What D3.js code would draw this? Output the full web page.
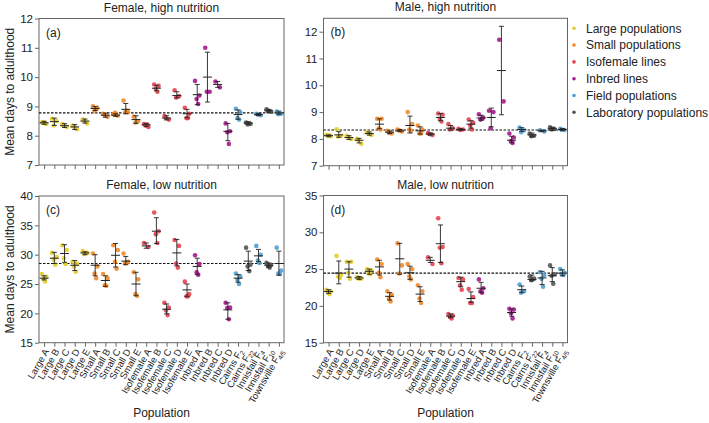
<!DOCTYPE html>
<html><head><meta charset="utf-8">
<script src="https://cdn.jsdelivr.net/npm/d3@7"></script>
<style>body{margin:0;background:#fff} svg{display:block;font-family:"Liberation Sans",Arial,Helvetica,sans-serif}</style>
</head><body><svg id="chart" width="709" height="423"></svg>
<script>
// ---------- data ----------
const catBase = ["Large A","Large B","Large C","Large D","Large E","Small A","Small B","Small C","Small D","Small E",
  "Isofemale A","Isofemale B","Isofemale C","Isofemale D","Isofemale E","Inbred A","Inbred B","Inbred C","Inbred D",
  "Cairns F","Cairns F","Innisfail F","Innisfail F","Townsville F"];
const catSub = ["","","","","","","","","","","","","","","","","","","","2","22","4","10","4/5"];
const catGroup = [0,0,0,0,0,1,1,1,1,1,2,2,2,2,2,3,3,3,3,4,5,4,5,4];
const groupNames = ["Large populations","Small populations","Isofemale lines","Inbred lines","Field populations","Laboratory populations"];
const groupColors = ["#e3cc2a","#ee8a2c","#e5424f","#a5198c","#4f9fd0","#555555"];

const meanA = [8.44,8.48,8.34,8.30,8.50,8.93,8.70,8.70,8.90,8.55,8.37,9.62,8.60,9.37,8.75,9.40,10.00,9.75,8.15,8.72,8.43,8.72,8.85,8.78];
const loA = [8.39,8.35,8.28,8.21,8.43,8.86,8.63,8.66,8.75,8.42,8.31,9.53,8.54,9.29,8.61,9.06,9.15,9.65,7.83,8.56,8.39,8.69,8.80,8.73];
const hiA = [8.49,8.60,8.41,8.38,8.57,9.00,8.77,8.75,9.10,8.68,8.42,9.72,8.68,9.50,8.90,9.75,10.85,9.85,8.42,8.88,8.48,8.76,8.90,8.84];
const ptsA = [[8.45,8.40,8.47,8.43],[8.58,8.50,8.35],[8.40,8.30,8.35],[8.35,8.22,8.30],[8.55,8.42,8.50],
  [9.00,8.95,8.85,8.90],[8.75,8.65,8.70],[8.73,8.68,8.78],[9.20,8.80,8.80,8.85],[8.65,8.50,8.45],
  [8.40,8.30,8.35,8.38],[9.75,9.70,9.60,9.50],[8.67,8.55,8.60],[9.55,9.35,9.30],[8.95,8.75,8.60,8.60],
  [9.87,9.37,9.25,9.08],[11.0,9.50,9.50],[9.85,9.65],[8.42,8.15,8.12,7.72],
  [8.92,8.80,8.60,8.55],[8.45,8.40,8.38],[8.75,8.70,8.72],[8.90,8.82,8.85],[8.82,8.75,8.73]];

const meanB = [8.12,8.15,8.05,7.95,8.20,8.55,8.25,8.30,8.50,8.30,8.18,8.80,8.40,8.35,8.55,8.78,8.80,10.55,7.95,8.35,8.15,8.30,8.38,8.35];
const loB = [8.08,8.06,7.98,7.85,8.14,8.38,8.20,8.27,8.22,8.18,8.14,8.68,8.33,8.32,8.40,8.70,8.45,8.90,7.85,8.28,8.08,8.27,8.32,8.31];
const hiB = [8.15,8.27,8.12,8.02,8.26,8.75,8.30,8.35,8.85,8.45,8.22,8.95,8.50,8.38,8.68,8.88,9.15,12.2,8.10,8.42,8.22,8.33,8.44,8.39];
const ptsB = [[8.15,8.10,8.12,8.13],[8.36,8.12,8.09],[8.12,8.00,8.05],[8.00,7.82,7.95],[8.25,8.15,8.20],
  [8.75,8.75,8.40,8.35],[8.30,8.20,8.22],[8.35,8.28,8.32],[9.00,8.55,8.35,8.30],[8.50,8.35,8.20,8.20],
  [8.22,8.15,8.18],[8.95,8.90,8.75,8.65],[8.55,8.40,8.35],[8.38,8.35,8.33],[8.72,8.60,8.50,8.35],
  [8.92,8.80,8.72,8.75],[9.05,9.00,8.40],[11.7,9.40],[8.20,8.05,7.92,7.85],
  [8.42,8.32,8.25],[8.20,8.12,8.10],[8.32,8.28],[8.43,8.37,8.35],[8.38,8.33,8.34]];

const meanC = [26.0,29.4,30.2,28.2,30.3,28.2,25.6,29.9,28.9,25.0,31.5,34.0,20.7,30.3,24.0,28.0,null,null,20.6,26.0,28.9,29.8,28.2,28.5];
const loC = [25.7,28.5,28.7,27.3,30.0,26.4,24.6,27.9,28.3,23.0,31.1,31.9,19.9,28.1,22.9,26.6,null,null,19.0,25.3,27.3,28.8,27.9,26.5];
const hiC = [26.4,30.4,31.7,29.0,30.5,30.0,26.4,31.9,29.7,27.0,32.0,36.3,21.6,32.6,25.0,29.4,null,null,21.8,26.6,30.6,30.9,28.6,30.6];
const ptsC = [[26.7,26.25,25.85,25.45],[30.3,29.6,29.2,28.3],[31.6,30.8,29.4,28.4],[28.8,28.5,28.0,27.1],[30.6,30.3,30.1],
  [30.2,28.0,26.8,26.0],[26.7,26.0,24.8,24.7],[31.6,30.8,28.8,27.6],[30.2,28.8,28.5,28.7],[27.0,25.8,23.3,23.0],
  [32.0,31.3],[37.2,34.0,33.5,32.0],[21.8,21.0,20.5,19.7],[32.5,31.5,28.5,27.8],[25.4,23.3,22.9,22.9],
  [29.9,28.4,27.0,26.6],[],[],[21.8,21.0,20.9,19.0],
  [26.8,26.3,25.7,25.0],[31.2,28.3,28.0,27.2],[31.5,30.0,29.0,28.6],[28.6,28.2,28.0,27.8],[31.2,27.3,26.8,26.7]];

const meanD = [21.95,24.45,25.0,23.8,24.7,25.3,21.3,26.4,24.5,21.6,26.2,28.45,18.6,23.3,21.0,22.4,null,null,19.1,22.2,23.6,23.8,24.1,24.45];
const loD = [21.7,23.0,23.9,23.6,24.3,24.2,20.8,24.3,23.6,20.6,25.9,25.9,18.4,22.6,20.5,21.8,null,null,18.6,21.8,23.4,22.9,23.3,24.1];
const hiD = [22.2,26.1,26.0,24.0,25.0,26.2,21.8,28.5,25.4,22.6,26.6,31.0,18.9,23.9,21.9,23.2,null,null,19.6,22.7,24.2,24.7,25.2,24.9];
const ptsD = [[22.2,22.0,21.8,21.6],[26.8,24.2,24.0,23.8],[26.0,26.0,24.5,23.7],[23.9,23.7,23.7],[25.0,24.8,24.5,24.3],
  [26.3,25.7,24.5,23.9],[22.0,21.5,21.0,20.6],[28.5,25.5,24.4],[25.7,25.0,24.0,23.6],[22.8,22.0,21.0,20.4],
  [26.6,25.7],[31.9,28.0,27.9,25.8],[18.9,18.7,18.5,18.3],[23.8,23.6,22.8,22.2],[22.3,21.2,20.4,20.4],
  [23.6,22.4,22.0,21.8],[],[],[19.6,19.5,19.0,18.3],
  [22.9,22.0,21.8],[24.0,23.7,23.5],[24.6,24.2,23.7,22.6],[25.5,24.3,24.1,23.0],[25.0,24.5,24.3,24.2]];

const ticksA = [7,8,9,10,11,12], ticksB = [7,8,9,10,11,12], ticksC = [15,20,25,30,35,40], ticksD = [15,20,25,30,35];
const domainA = [7,12], domainB = [7,12.5], domainC = [15,40], domainD = [15,35];
const refA = 8.78, refB = 8.33, refC = 28.5, refD = 24.45;
const titles = ["Female, high nutrition","Male, high nutrition","Female, low nutrition","Male, low nutrition"];
const tags = ["(a)","(b)","(c)","(d)"];

// ---------- layout ----------
const boxes = [
  {x0:39, x1:284, y0:18.5, y1:165},
  {x0:323.5, x1:567.5, y0:18.3, y1:165.7},
  {x0:39, x1:284, y0:196, y1:342.7},
  {x0:323.5, x1:567.5, y0:195.5, y1:342.7}
];
const panels = [
  {mean:meanA, lo:loA, hi:hiA, pts:ptsA, ticks:ticksA, domain:domainA, ref:refA},
  {mean:meanB, lo:loB, hi:hiB, pts:ptsB, ticks:ticksB, domain:domainB, ref:refB},
  {mean:meanC, lo:loC, hi:hiC, pts:ptsC, ticks:ticksC, domain:domainC, ref:refC},
  {mean:meanD, lo:loD, hi:hiD, pts:ptsD, ticks:ticksD, domain:domainD, ref:refD}
];
const jitter = [-2.2, 2.2, -0.6, 1.0];
const axisCol = "#666";
const svg = d3.select("#chart");

panels.forEach((p, k) => {
  const b = boxes[k];
  const x = d3.scalePoint().domain(d3.range(catBase.length)).range([b.x0, b.x1]).padding(0.5);
  const y = d3.scaleLinear().domain(p.domain).range([b.y1, b.y0]);
  const g = svg.append("g");

  g.append("text").attr("x", (b.x0+b.x1)/2).attr("y", b.y0-7).attr("text-anchor","middle")
    .attr("font-size",12).attr("fill","#222").text(titles[k]);
  g.append("text").attr("x", b.x0+7).attr("y", b.y0+18).attr("font-size",12).attr("fill","#222").text(tags[k]);

  const ya = g.append("g").attr("transform",`translate(${b.x0},0)`)
    .call(d3.axisLeft(y).tickValues(p.ticks).tickFormat(d3.format("d")).tickSize(4).tickSizeOuter(0).tickPadding(2));
  ya.select(".domain").remove();
  ya.selectAll("line").attr("stroke",axisCol);
  ya.selectAll("text").attr("font-size",11.5).attr("fill","#222").attr("font-family",null);

  const xa = g.append("g").attr("transform",`translate(0,${b.y1})`)
    .call(d3.axisBottom(x).tickSize(4).tickFormat(""));
  xa.select(".domain").remove();
  xa.selectAll("line").attr("stroke",axisCol);

  g.append("rect").attr("x",b.x0).attr("y",b.y0).attr("width",b.x1-b.x0).attr("height",b.y1-b.y0)
    .attr("fill","none").attr("stroke",axisCol).attr("stroke-width",1);

  g.append("line").attr("x1",b.x0).attr("x2",b.x1).attr("y1",y(p.ref)).attr("y2",y(p.ref))
    .attr("stroke","#111").attr("stroke-width",1.1).attr("stroke-dasharray","2.5,1.5");

  catBase.forEach((c, i) => {
    const col = groupColors[catGroup[i]];
    g.selectAll(null).data(p.pts[i]).enter().append("circle")
      .attr("cx",(d,j)=>x(i)+jitter[j%jitter.length])
      .attr("cy",d=>y(d)).attr("r",2.3).attr("fill",col).attr("fill-opacity",0.9);
    if (p.mean[i] != null) {
      const xc = x(i);
      g.append("line").attr("x1",xc).attr("x2",xc).attr("y1",y(p.lo[i])).attr("y2",y(p.hi[i]))
        .attr("stroke","#222").attr("stroke-width",0.9);
      [p.lo[i], p.hi[i]].forEach(v => g.append("line").attr("x1",xc-2.5).attr("x2",xc+2.5)
        .attr("y1",y(v)).attr("y2",y(v)).attr("stroke","#222").attr("stroke-width",0.9));
      g.append("line").attr("x1",xc-4.5).attr("x2",xc+4.5).attr("y1",y(p.mean[i])).attr("y2",y(p.mean[i]))
        .attr("stroke","#222").attr("stroke-width",1);
    }
  });

  if (k >= 2) {
    catBase.forEach((c, i) => {
      const t = g.append("text").attr("transform",`translate(${x(i)+2.5},${b.y1+7}) rotate(-60)`)
        .attr("text-anchor","end").attr("dy","0.35em").attr("font-size",9.5).attr("fill","#222");
      t.append("tspan").text(c);
      if (catSub[i]) t.append("tspan").attr("font-size",6.5).attr("dy","0.3em").text(catSub[i]);
    });
    g.append("text").attr("x",(b.x0+b.x1)/2).attr("y",417).attr("text-anchor","middle")
      .attr("font-size",12).attr("fill","#222").text("Population");
  }
  if (k % 2 === 0) {
    g.append("text").attr("transform",`translate(14,${(b.y0+b.y1)/2}) rotate(-90)`)
      .attr("text-anchor","middle").attr("font-size",12).attr("fill","#222").text("Mean days to adulthood");
  }
});

const lg = svg.append("g");
groupNames.forEach((n, i) => {
  const yy = 28.3 + i*16.8;
  lg.append("circle").attr("cx",574).attr("cy",yy).attr("r",1.8).attr("fill",groupColors[i]);
  lg.append("text").attr("x",586).attr("y",yy).attr("dy","0.35em").attr("font-size",12).attr("fill","#222").text(n);
});
</script></body></html>
